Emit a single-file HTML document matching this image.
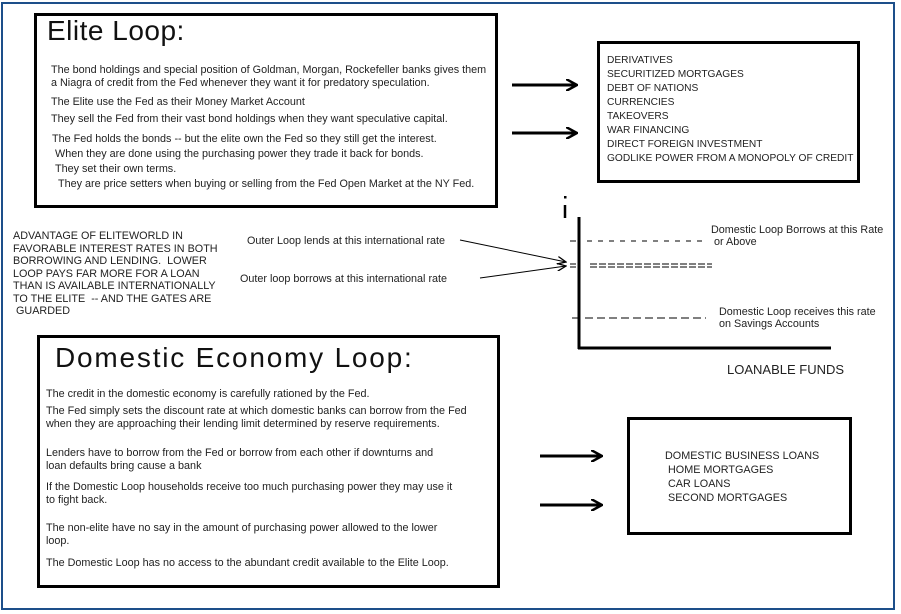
<!DOCTYPE html>
<html><head><style>
body{margin:0;width:901px;height:614px;background:#fff;position:relative;overflow:hidden;font-family:"Liberation Sans",sans-serif;color:#222}
.a{position:absolute;white-space:nowrap}
.box{position:absolute;border:3px solid #000;box-sizing:border-box}
.t{font-size:10.8px;line-height:13px}
.h{font-family:"Liberation Sans",sans-serif;font-size:28px;color:#111}
</style></head><body>
<div style="position:absolute;left:1px;top:2px;width:894px;height:608px;border:2px solid #1d4f8a;box-sizing:border-box"></div>

<div class="box" style="left:34px;top:13px;width:464px;height:195px"></div>
<div class="a h" style="left:47px;top:15px;letter-spacing:0.5px">Elite Loop:</div>
<div class="a t" style="left:51px;top:64px">The bond holdings and special position of Goldman, Morgan, Rockefeller banks gives them<br>a Niagra of credit from the Fed whenever they want it for predatory speculation.</div>
<div class="a t" style="left:51px;top:96px">The Elite use the Fed as their Money Market Account</div>
<div class="a t" style="left:51px;top:113px">They sell the Fed from their vast bond holdings when they want speculative capital.</div>
<div class="a t" style="left:52px;top:132px;line-height:15px">The Fed holds the bonds -- but the elite own the Fed so they still get the interest.<br>&nbsp;When they are done using the purchasing power they trade it back for bonds.<br>&nbsp;They set their own terms.<br>&nbsp;&nbsp;They are price setters when buying or selling from the Fed Open Market at the NY Fed.</div>

<div class="box" style="left:597px;top:41px;width:263px;height:142px"></div>
<div class="a t" style="left:607px;top:54px;line-height:14px;font-size:10.2px">DERIVATIVES<br>SECURITIZED MORTGAGES<br>DEBT OF NATIONS<br>CURRENCIES<br>TAKEOVERS<br>WAR FINANCING<br>DIRECT FOREIGN INVESTMENT<br>GODLIKE POWER FROM A MONOPOLY OF CREDIT</div>

<svg class="a" style="left:0;top:0" width="901" height="614">
<defs><marker id="m" markerWidth="12" markerHeight="12" refX="11" refY="6" orient="auto" markerUnits="userSpaceOnUse"><path d="M0,0 L11,6 L0,12" fill="none" stroke="#000" stroke-width="2.5"/></marker>
<marker id="s" markerWidth="10" markerHeight="8" refX="9" refY="4" orient="auto" markerUnits="userSpaceOnUse"><path d="M0,0 L9,4 L0,8" fill="none" stroke="#000" stroke-width="1.3"/></marker></defs>
<g stroke="#000" stroke-width="3" marker-end="url(#m)">
<line x1="512" y1="85" x2="577" y2="85"/><line x1="512" y1="133" x2="577" y2="133"/>
<line x1="540" y1="456" x2="602" y2="456"/><line x1="540" y1="505" x2="602" y2="505"/>
</g>
<line x1="579" y1="217" x2="579" y2="349" stroke="#000" stroke-width="3"/>
<line x1="578" y1="348" x2="831" y2="348" stroke="#000" stroke-width="3"/>
<line x1="565" y1="205" x2="565" y2="218" stroke="#000" stroke-width="2.5"/>
<rect x="564" y="196" width="2.5" height="2.5" fill="#000"/>
<g stroke="#000" stroke-width="1">
<line x1="570" y1="241" x2="576" y2="241"/><line x1="570" y1="264" x2="576" y2="264"/><line x1="570" y1="267" x2="576" y2="267"/><line x1="572" y1="318" x2="578" y2="318"/>
<line x1="587" y1="241" x2="705" y2="241" stroke-dasharray="5,6"/>
<line x1="590" y1="264" x2="712" y2="264" stroke-dasharray="7,2"/>
<line x1="590" y1="267" x2="712" y2="267" stroke-dasharray="7,2"/>
<line x1="585" y1="318" x2="706" y2="318" stroke-dasharray="8,4"/>
<line x1="460" y1="240" x2="566" y2="262" marker-end="url(#s)"/>
<line x1="480" y1="278" x2="566" y2="266" marker-end="url(#s)"/>
</g>
</svg>
<div class="a t" style="left:711px;top:224px;line-height:12px">Domestic Loop Borrows at this Rate<br>&nbsp;or Above</div>
<div class="a t" style="left:719px;top:306px;line-height:12px">Domestic Loop receives this rate<br>on Savings Accounts</div>
<div class="a" style="left:727px;top:362px;font-size:13px;color:#222">LOANABLE FUNDS</div>
<div class="a t" style="left:247px;top:235px">Outer Loop lends at this international rate</div>
<div class="a t" style="left:240px;top:273px">Outer loop borrows at this international rate</div>
<div class="a t" style="left:13px;top:230px;line-height:12.5px">ADVANTAGE OF ELITEWORLD IN<br>FAVORABLE INTEREST RATES IN BOTH<br>BORROWING AND LENDING.&nbsp; LOWER<br>LOOP PAYS FAR MORE FOR A LOAN<br>THAN IS AVAILABLE INTERNATIONALLY<br>TO THE ELITE&nbsp; -- AND THE GATES ARE<br>&nbsp;GUARDED</div>

<div class="box" style="left:37px;top:335px;width:463px;height:253px"></div>
<div class="a h" style="left:55px;top:342px;letter-spacing:1.8px">Domestic Economy Loop:</div>
<div class="a t" style="left:46px;top:388px">The credit in the domestic economy is carefully rationed by the Fed.</div>
<div class="a t" style="left:46px;top:405px">The Fed simply sets the discount rate at which domestic banks can borrow from the Fed<br>when they are approaching their lending limit determined by reserve requirements.</div>
<div class="a t" style="left:46px;top:447px">Lenders have to borrow from the Fed or borrow from each other if downturns and<br>loan defaults bring cause a bank</div>
<div class="a t" style="left:46px;top:481px">If the Domestic Loop households receive too much purchasing power they may use it<br>to fight back.</div>
<div class="a t" style="left:46px;top:522px">The non-elite have no say in the amount of purchasing power allowed to the lower<br>loop.</div>
<div class="a t" style="left:46px;top:557px">The Domestic Loop has no access to the abundant credit available to the Elite Loop.</div>

<div class="box" style="left:627px;top:417px;width:225px;height:118px"></div>
<div class="a t" style="left:665px;top:449px;line-height:14px">DOMESTIC BUSINESS LOANS<br>&nbsp;HOME MORTGAGES<br>&nbsp;CAR LOANS<br>&nbsp;SECOND MORTGAGES</div>
</body></html>
